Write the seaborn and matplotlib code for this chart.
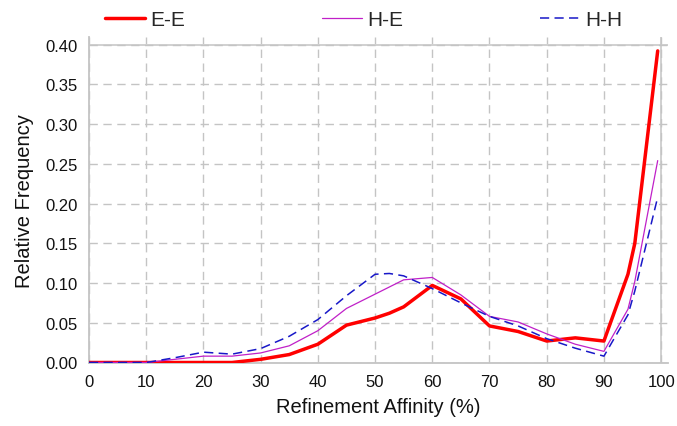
import numpy as np
import pandas as pd
import matplotlib
matplotlib.use("Agg")
import matplotlib.pyplot as plt
import seaborn as sns

# ---- data ----
affinity = [0, 5, 10, 15, 20, 25, 30, 35, 40, 45, 50, 52.5, 55, 60, 65, 70, 75, 80, 85, 90, 94.2, 95.4, 99.4]
ee = [0, 0, 0, 0, 0, 0, 0.004, 0.010, 0.023, 0.047, 0.056, 0.062, 0.070, 0.097, 0.080,
      0.046, 0.039, 0.027, 0.031, 0.027, 0.111, 0.150, 0.392]
he = [0, 0, 0, 0.004, 0.008, 0.008, 0.012, 0.021, 0.040, 0.068, 0.086, 0.095, 0.104, 0.107, 0.085,
      0.058, 0.051, 0.036, 0.023, 0.014, 0.067, 0.102, 0.254]
hh = [0, 0, 0, 0.006, 0.013, 0.0105, 0.0175, 0.033, 0.054, 0.084, 0.111, 0.112, 0.109, 0.093, 0.075,
      0.058, 0.046, 0.030, 0.018, 0.008, 0.060, 0.090, 0.208]
series_names = ["E-E", "H-E", "H-H"]
x_ticks = [0, 10, 20, 30, 40, 50, 60, 70, 80, 90, 100]
y_ticks = [0.00, 0.05, 0.10, 0.15, 0.20, 0.25, 0.30, 0.35, 0.40]

sns.set_style("white")
plt.rcParams['font.family'] = ['Liberation Sans', 'DejaVu Sans']

fig = plt.figure(figsize=(6.77, 4.27), dpi=100)
ax = fig.add_axes([89/677, 1-363.5/427, (668-89)/677, (363.5-38)/427])

grid_col = "#c4c4c4"
styles = {
    "E-E": dict(color="#ff0000", lw=2.5, ls="-"),
    "H-E": dict(color="#c020c8", lw=0.9, ls="-"),
    "H-H": dict(color="#1818c8", lw=1.1, ls=(0, (6, 3.5))),
}
data = {"E-E": ee, "H-E": he, "H-H": hh}
for name in series_names:
    df = pd.DataFrame({"x": affinity, "y": data[name]})
    st = styles[name]
    sns.lineplot(data=df, x="x", y="y", ax=ax, color=st["color"], linewidth=st["lw"],
                 linestyle=st["ls"], label=name, zorder=3)

ax.set_xlim(0, 101.2)
ax.set_ylim(0, 0.4095)
ax.set_xticks(x_ticks)
ax.set_yticks(y_ticks)
ax.set_yticklabels([f"{v:.2f}" for v in y_ticks])
ax.grid(True, color=grid_col, lw=1.0, ls=(0, (6, 4)))
ax.axhline(0.40, color=grid_col, lw=1.1, zorder=1)
ax.axvline(100, color=grid_col, lw=1.1, zorder=1)

for s in ["top", "right"]:
    ax.spines[s].set_visible(False)
for s in ["left", "bottom"]:
    ax.spines[s].set_color(grid_col)
    ax.spines[s].set_linewidth(1.3)

ax.tick_params(axis="both", which="major", direction="out", length=5, width=1.0,
               color=grid_col, labelsize=12, labelcolor="#111111", pad=3)
ax.set_xlabel("Refinement Affinity (%)", fontsize=14.5, color="#111111", labelpad=6)
ax.set_ylabel("Relative Frequency", fontsize=14.5, color="#111111", labelpad=8)

ax.get_legend().remove()
handles, labels = ax.get_legend_handles_labels()
fig.legend(handles, labels, loc="center left", bbox_to_anchor=(105/677, 1-21/427),
           ncol=3, frameon=False, fontsize=15, borderpad=0, borderaxespad=0,
           handlelength=1.9, handletextpad=0.25, columnspacing=6.6)

fig.savefig("out.png", dpi=100)
